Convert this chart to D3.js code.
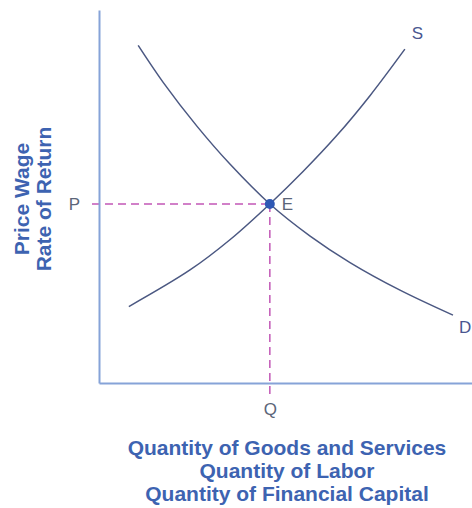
<!DOCTYPE html>
<html>
<head>
<meta charset="utf-8">
<script src="https://cdn.jsdelivr.net/npm/d3@7"></script>
<style>
  body { margin: 0; background: #fff; }
  svg { display: block; font-family: "Liberation Sans", Arial, sans-serif; }
</style>
</head>
<body>
<div id="chart"></div>
<script>
// curve points (quantity, price on a 0-100 scale)
var supply = [[8, 20.5], [24.4, 30.3], [35.1, 38.4], [45.8, 48], [54.7, 56.7], [63.8, 66.4], [72.7, 77.1], [82, 89.5]];
var demand = [[10.5, 90.5], [17.2, 80.6], [26.3, 68.8], [35.1, 58.7], [45.8, 48], [56.6, 39.4], [67.3, 32.3], [80.7, 24.9], [94.9, 18.2]];
var equilibrium = [45.8, 48];
var xTitle = ["Quantity of Goods and Services", "Quantity of Labor", "Quantity of Financial Capital"];
var yTitle = ["Price Wage", "Rate of Return"];

var W = 472, H = 508;
var svg = d3.select("#chart").append("svg")
    .attr("width", W)
    .attr("height", H);

// plot area
var x = d3.scaleLinear().domain([0, 100]).range([99, 472]);
var y = d3.scaleLinear().domain([0, 100]).range([383, 10]);

var axisColor = "#86a3d8";
var curveColor = "#4b5882";
var dashColor = "#c257b6";
var labelColor = "#5b6579";

// dashed guides
svg.append("line")
    .attr("x1", x(0) - 7).attr("x2", x(equilibrium[0]))
    .attr("y1", y(equilibrium[1])).attr("y2", y(equilibrium[1]))
    .attr("stroke", dashColor).attr("stroke-width", 1.5)
    .attr("stroke-dasharray", "8,5");
svg.append("line")
    .attr("x1", x(equilibrium[0])).attr("x2", x(equilibrium[0]))
    .attr("y1", y(equilibrium[1])).attr("y2", y(0) + 11)
    .attr("stroke", dashColor).attr("stroke-width", 1.5)
    .attr("stroke-dasharray", "8,5");

// axes
var xAxis = svg.append("g")
    .attr("transform", `translate(0, ${y(0)})`)
    .call(d3.axisBottom(x).tickValues([equilibrium[0]]).tickFormat(() => "Q").tickSize(0).tickPadding(20));
var yAxis = svg.append("g")
    .attr("transform", `translate(${x(0)}, 0)`)
    .call(d3.axisLeft(y).tickValues([equilibrium[1]]).tickFormat(() => "P").tickSize(0).tickPadding(19));

[xAxis, yAxis].forEach(function(a) {
    a.select(".domain").attr("stroke", axisColor).attr("stroke-width", 2);
    a.selectAll("text")
        .attr("fill", labelColor)
        .style("font-size", "17px")
        .style("font-family", "Liberation Sans, Arial, sans-serif");
});

// curves
var line = d3.line()
    .x(d => x(d[0]))
    .y(d => y(d[1]))
    .curve(d3.curveCatmullRom);

svg.append("path")
    .datum(supply)
    .attr("d", line)
    .attr("fill", "none")
    .attr("stroke", curveColor)
    .attr("stroke-width", 1.5);
svg.append("path")
    .datum(demand)
    .attr("d", line)
    .attr("fill", "none")
    .attr("stroke", curveColor)
    .attr("stroke-width", 1.5);

// equilibrium point
svg.append("circle")
    .attr("cx", x(equilibrium[0]))
    .attr("cy", y(equilibrium[1]))
    .attr("r", 5)
    .attr("fill", "#2f58b4");

// curve labels
svg.append("text")
    .attr("x", x(equilibrium[0]) + 12)
    .attr("y", y(equilibrium[1]))
    .attr("dy", "0.36em")
    .attr("fill", labelColor)
    .style("font-size", "17px")
    .text("E");
var lastS = supply[supply.length - 1];
svg.append("text")
    .attr("x", x(lastS[0]) + 7)
    .attr("y", y(lastS[1]) - 10)
    .attr("fill", "#4a5690")
    .style("font-size", "17px")
    .text("S");
var lastD = demand[demand.length - 1];
svg.append("text")
    .attr("x", x(lastD[0]) + 6)
    .attr("y", y(lastD[1]) + 18)
    .attr("fill", "#4a5690")
    .style("font-size", "17px")
    .text("D");

// axis titles
var titleColor = "#3d63b1";
svg.append("g")
    .selectAll("text")
    .data(xTitle)
    .enter().append("text")
    .attr("x", 287)
    .attr("y", (d, i) => 455 + i * 23)
    .attr("text-anchor", "middle")
    .attr("fill", titleColor)
    .style("font-size", "21px")
    .style("font-weight", "bold")
    .text(d => d);

svg.append("g")
    .attr("transform", "translate(0, 199) rotate(-90)")
    .selectAll("text")
    .data(yTitle)
    .enter().append("text")
    .attr("x", 0)
    .attr("y", (d, i) => 29 + i * 22)
    .attr("text-anchor", "middle")
    .attr("fill", titleColor)
    .style("font-size", "21px")
    .style("font-weight", "bold")
    .text(d => d);
</script>
</body>
</html>
